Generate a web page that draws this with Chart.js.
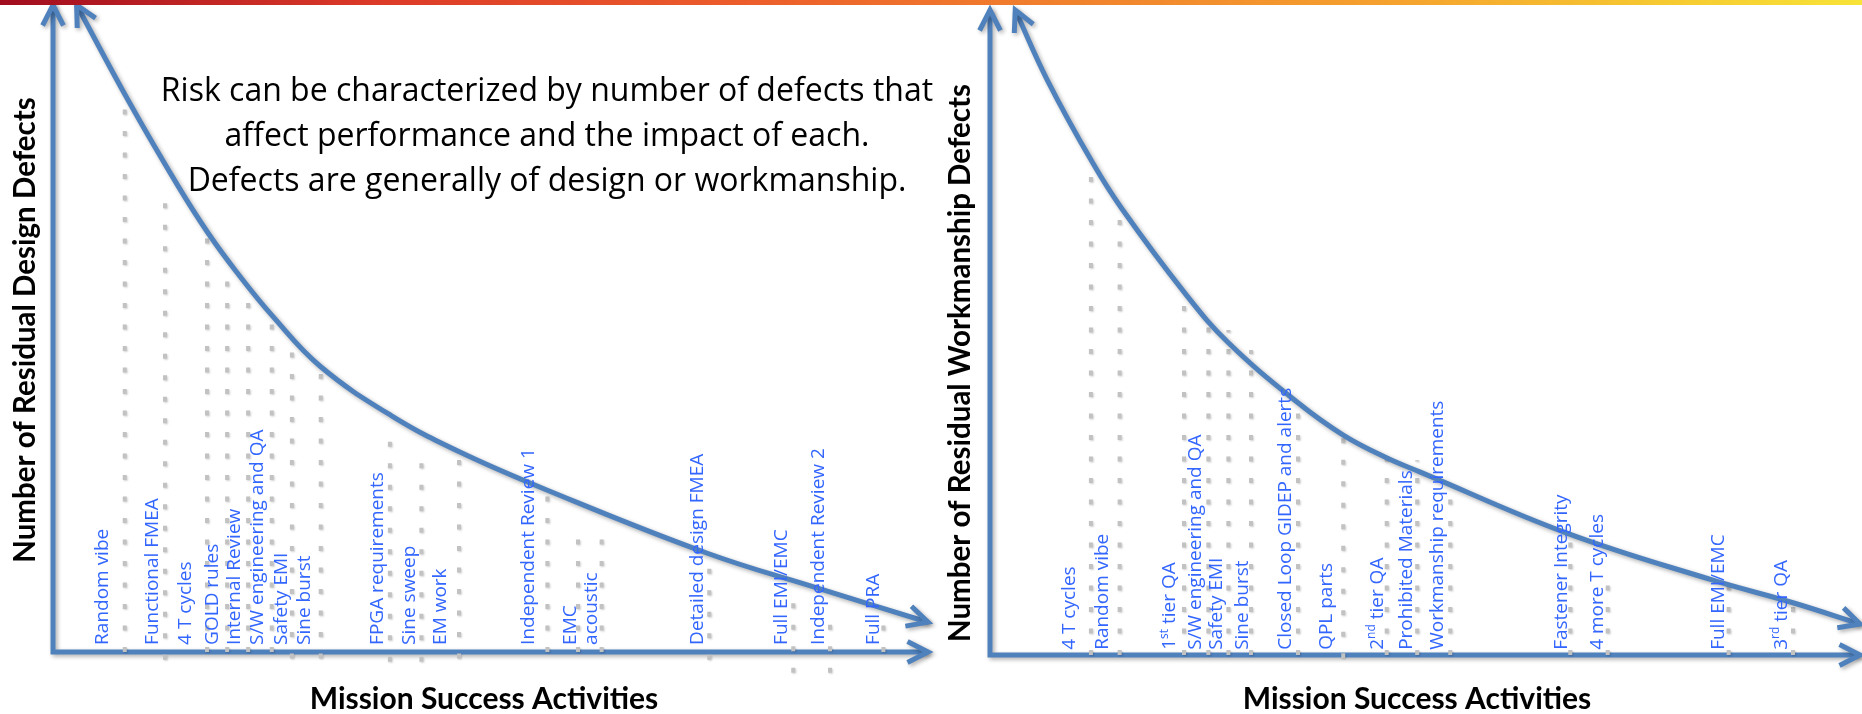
<!DOCTYPE html>
<html>
<head>
<meta charset="utf-8">
<script src="https://cdn.jsdelivr.net/npm/chart.js@4.4.1/dist/chart.umd.min.js"></script>
<style>
  html, body { margin: 0; padding: 0; background: #fff; overflow: hidden; }
  #topBar {
    position: absolute; left: 0; top: 0; width: 1862px; height: 5px; z-index: 5;
    background: linear-gradient(to right, #a10d1f 0%, #dc3a28 20%, #ec5d2b 40%, #f07d2d 55%, #f5a22e 75%, #f6cb31 90%, #f8e337 100%);
  }
  canvas { position: absolute; top: 0; }
</style>
</head>
<body>
<div id="topBar"></div>
<canvas id="designChart" width="960" height="714" style="left:0"></canvas>
<canvas id="workChart" width="931" height="714" style="left:931px"></canvas>
<script>
// ---- left panel: design defects ----
const designCurveX = [2.7, 8.7, 14.3, 17.7, 21.0, 25.1, 30.5, 38.7, 46.5, 56.5, 74.7, 87.3, 100];
const designCurveY = [100, 85.0, 72.0, 64.8, 58.7, 51.9, 44.2, 36.5, 30.9, 25.0, 15.3, 9.9, 4.6];

const designActivities = ["Random vibe", "Functional FMEA", "4 T cycles", "GOLD rules", "Internal Review",
  "S/W engineering and QA", "Safety EMI", "Sine burst", "FPGA requirements", "Sine sweep", "EM work",
  "Independent Review 1", "EMC", "acoustic", "Detailed design FMEA", "Full EMI/EMC",
  "Independent Review 2", "Full PRA"];
const designLabelX = [5.7, 11.4, 15.1, 18.2, 20.8, 23.4, 26.1, 28.8, 37.1, 40.7, 44.3, 54.3, 59.1, 61.6, 73.7, 83.3, 87.5, 93.8];

const designGuideX = [8.2, 12.8, 17.6, 19.9, 22.3, 25.0, 27.3, 30.6, 38.5, 42.1, 46.4, 56.5, 60.0, 62.7, 75.0, 84.6, 88.8, 94.9];
const designGuideTop = [84.5, 70.9, 66.0, 59.8, 56.4, 50.9, 47.1, 43.9, 32.5, 30.1, 30.4, 25.0, 18.9, 18.9, 13.0, 8.0, 4.9, 5.3];
const designGuideBottom = [0, -1.2, 0, 0, 0, 0, -1, -1, -1.5, -1.5, -1, 0, 0, 0, -1.2, -3.2, -3.2, 0];

// ---- right panel: workmanship defects ----
const workCurveX = [2.9, 6.6, 11.8, 15.2, 22.4, 27.4, 35.4, 40.6, 45.7, 49.4, 66.3, 83.1, 92.3, 100];
const workCurveY = [100, 89.1, 76.3, 69.1, 56.1, 48.4, 39.1, 34.1, 30.5, 28.4, 18.9, 11.6, 8.1, 4.8];

// {..} marks a superscript
const workActivities = ["4 T cycles", "Random vibe", "1{st} tier QA", "S/W engineering and QA", "Safety EMI",
  "Sine burst", "Closed Loop GIDEP and alerts", "QPL parts", "2{nd} tier QA", "Prohibited Materials",
  "Workmanship requirements", "Fastener Integrity", "4 more T cycles", "Full EMI/EMC", "3{rd} tier QA"];
const workLabelX = [9.2, 12.9, 20.7, 23.6, 26.1, 29.0, 34.0, 38.7, 44.5, 47.9, 51.5, 65.7, 69.8, 83.7, 91.0];

const workGuideX = [11.6, 14.9, 22.3, 25.1, 27.4, 30.0, 35.4, 40.6, 45.6, 49.1, 52.9, 66.7, 71.0, 84.9, 92.3];
const workGuideTop = [76.0, 69.1, 56.1, 52.4, 50.4, 47.3, 39.1, 33.8, 33.0, 30.2, 25.9, 18.9, 12.1, 11.9, 8.8];
const workGuideBottom = [0, 0, 0, 0, 0, 0, 0, -0.5, 0, 0, 0, 0, 0, 0, 0];

const xTitle = "Mission Success Activities";
const noteLines = [
  "Risk can be characterized by number of defects that",
  "affect performance and the impact of each.",
  "Defects are generally of design or workmanship."
];

const BLUE = "#4f81bd";
const LABEL_BLUE = "#3366ff";
Chart.defaults.font.family = "Open Sans";

function toPoints(xs, ys) {
  return xs.map((x, i) => ({ x: x, y: ys[i] }));
}

function guidePoints(xs, tops, bottoms) {
  const pts = [];
  xs.forEach((x, i) => {
    pts.push({ x: x, y: bottoms[i] });
    pts.push({ x: x, y: tops[i] });
    pts.push({ x: x, y: null });
  });
  return pts;
}

function setShadow(ctx) {
  ctx.shadowColor = "rgba(0,0,0,0.32)";
  ctx.shadowBlur = 4;
  ctx.shadowOffsetX = 2;
  ctx.shadowOffsetY = 2;
}

function arrowHead(ctx, tipX, tipY, fromX, fromY) {
  const len = 23, spread = 0.47;
  const ang = Math.atan2(tipY - fromY, tipX - fromX);
  ctx.beginPath();
  ctx.moveTo(tipX - len * Math.cos(ang - spread), tipY - len * Math.sin(ang - spread));
  ctx.lineTo(tipX, tipY);
  ctx.lineTo(tipX - len * Math.cos(ang + spread), tipY - len * Math.sin(ang + spread));
  ctx.stroke();
}

function drawLabel(ctx, text, x, y) {
  ctx.save();
  ctx.translate(x, y);
  ctx.rotate(-Math.PI / 2);
  ctx.fillStyle = LABEL_BLUE;
  ctx.textAlign = "left";
  ctx.textBaseline = "middle";
  let cx = 0;
  text.split(/(\{[^}]*\})/).filter(Boolean).forEach(part => {
    if (part[0] === "{") {
      const t = part.slice(1, -1);
      ctx.font = "12px 'Open Sans'";
      ctx.fillText(t, cx, -6);
      cx += ctx.measureText(t).width;
    } else {
      ctx.font = "19px 'Open Sans'";
      ctx.fillText(part, cx, 0);
      cx += ctx.measureText(part).width;
    }
  });
  ctx.restore();
}

function decorPlugin(o) {
  return {
    id: "decor",
    beforeDatasetsDraw(chart) {
      const { ctx, scales: { x, y } } = chart;
      const x0 = x.getPixelForValue(0), x1 = x.getPixelForValue(100);
      const y0 = y.getPixelForValue(0), y1 = y.getPixelForValue(100);
      ctx.save();
      setShadow(ctx);
      ctx.strokeStyle = BLUE;
      ctx.lineWidth = 5;
      ctx.beginPath();
      ctx.moveTo(x0, y1);
      ctx.lineTo(x0, y0);
      ctx.lineTo(x1, y0);
      ctx.stroke();
      arrowHead(ctx, x0, y1, x0, y0);
      arrowHead(ctx, x1, y0, x0, y0);
      ctx.restore();
    },
    beforeDatasetDraw(chart, args) {
      chart.ctx.save();
      if (args.index === 0) setShadow(chart.ctx);
      else {
        chart.ctx.shadowColor = "rgba(0,0,0,0.18)";
        chart.ctx.shadowBlur = 2;
        chart.ctx.shadowOffsetX = 1;
        chart.ctx.shadowOffsetY = 1;
      }
    },
    afterDatasetDraw(chart) {
      chart.ctx.restore();
    },
    afterDatasetsDraw(chart) {
      const { ctx, scales: { x, y } } = chart;
      // arrow heads on both ends of the curve
      const pts = chart.getDatasetMeta(0).data;
      const first = pts[0], last = pts[pts.length - 1];
      ctx.save();
      setShadow(ctx);
      ctx.strokeStyle = BLUE;
      ctx.lineWidth = 5;
      arrowHead(ctx, first.x, first.y, first.cp2x ?? pts[1].x, first.cp2y ?? pts[1].y);
      arrowHead(ctx, last.x, last.y, last.cp1x ?? pts[pts.length - 2].x, last.cp1y ?? pts[pts.length - 2].y);
      ctx.restore();

      // activity labels
      const base = y.getPixelForValue(o.labelBase);
      o.names.forEach((name, i) => drawLabel(ctx, name, x.getPixelForValue(o.labelX[i]), base));

      // axis titles
      ctx.save();
      ctx.fillStyle = "#000";
      ctx.font = "bold 30px Lato";
      ctx.textAlign = "center";
      ctx.textBaseline = "alphabetic";
      ctx.fillText(xTitle, o.xTitleX, 709);
      ctx.translate(o.yTitleBase, o.yTitleY);
      ctx.rotate(-Math.PI / 2);
      ctx.font = "bold 29.5px Lato";
      ctx.fillText(o.yTitle, 0, 0);
      ctx.restore();

      if (o.note) {
        ctx.save();
        ctx.fillStyle = "#000";
        ctx.font = "32px 'Open Sans'";
        ctx.textAlign = "center";
        o.note.forEach((line, i) => ctx.fillText(line, 547, 101 + i * 45));
        ctx.restore();
      }
    }
  };
}

function makeChart(id, curve, guides, padding, o) {
  return new Chart(document.getElementById(id), {
    type: "line",
    data: {
      datasets: [
        {
          data: curve,
          borderColor: BLUE,
          borderWidth: 5,
          pointRadius: 0,
          tension: 0.4,
          clip: false,
          order: 1
        },
        {
          data: guides,
          borderColor: "#c2c2c2",
          borderWidth: 4,
          borderDash: [5, 16.5],
          pointRadius: 0,
          spanGaps: false,
          tension: 0,
          clip: false,
          order: 2
        }
      ]
    },
    options: {
      responsive: false,
      animation: false,
      events: [],
      layout: { padding: padding },
      plugins: { legend: { display: false }, tooltip: { enabled: false } },
      scales: {
        x: { type: "linear", min: 0, max: 100, display: false },
        y: { type: "linear", min: 0, max: 100, display: false }
      }
    },
    plugins: [decorPlugin(o)]
  });
}

makeChart("designChart",
  toPoints(designCurveX, designCurveY),
  guidePoints(designGuideX, designGuideTop, designGuideBottom),
  { left: 53, right: 32, top: 5, bottom: 62 },
  {
    names: designActivities, labelX: designLabelX, labelBase: 1.1,
    yTitle: "Number of Residual Design Defects", yTitleBase: 35, yTitleY: 330,
    xTitleX: 484, note: noteLines
  });

makeChart("workChart",
  toPoints(workCurveX, workCurveY),
  guidePoints(workGuideX, workGuideTop, workGuideBottom),
  { left: 59, right: 2, top: 10, bottom: 59 },
  {
    names: workActivities, labelX: workLabelX, labelBase: 0.8,
    yTitle: "Number of Residual Workmanship Defects", yTitleBase: 39, yTitleY: 363,
    xTitleX: 486, note: null
  });
</script>
</body>
</html>
